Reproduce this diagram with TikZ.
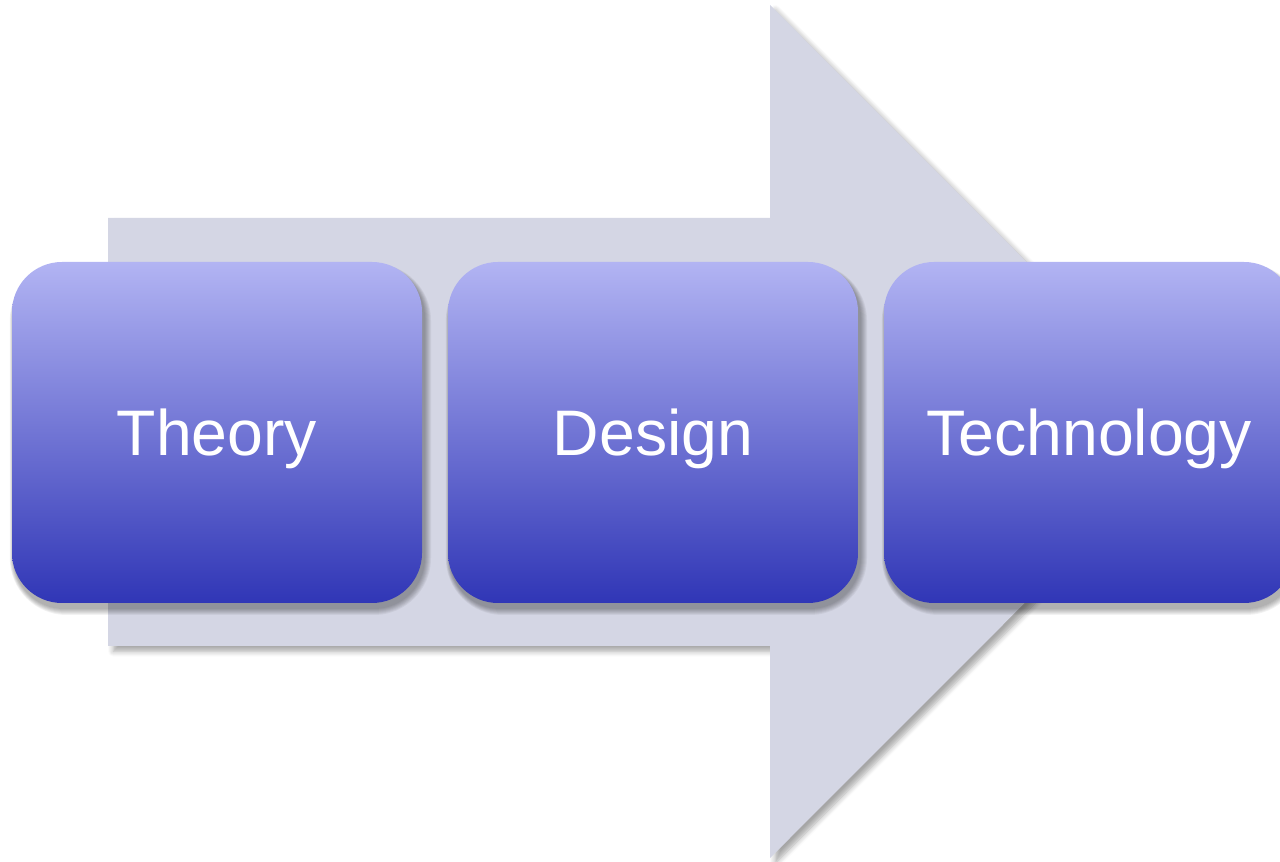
\documentclass[tikz,border=0pt]{standalone}
\usepackage{fontspec}
\setmainfont{Liberation Sans}
\usetikzlibrary{shadows,shadows.blur,calc}
\definecolor{arrowfill}{HTML}{D4D6E4}
\definecolor{boxtop}{HTML}{B2B4F3}
\definecolor{boxbot}{HTML}{3036B6}
\newlength{\pxu}
\setlength{\pxu}{0.01cm}
\tikzset{
  stagebox/.style={rounded corners=50\pxu, minimum width=410\pxu, minimum height=341\pxu,
    top color=boxtop, bottom color=boxbot, draw=none, text=white,
    font=\fontsize{18.3}{22}\selectfont, inner sep=0pt},
  softshade/.style={fill=black, fill opacity=0.05, draw=none},
}
\newcommand{\stageshadow}[1]{%
  \foreach \r in {1,...,7}{%
    \fill[softshade, rounded corners=50\pxu+\r\pxu]
      ($(#1)+(-205-0.6*\r+2,-170.5+5-0.5*\r)$) rectangle ($(#1)+(205+\r+2,170.5+\r+5)$);
  }%
}
\newcommand{\stagetext}[1]{\raisebox{-23.5\pxu}[0pt][0pt]{#1}}
\begin{document}
\begin{tikzpicture}[x=0.01cm,y=-0.01cm]
\path[use as bounding box] (0,0) rectangle (1280,862);
\clip (0,0) rectangle (1280,862);
\fill[arrowfill, blur shadow={shadow xshift=1.5pt, shadow yshift=-1.5pt, shadow blur steps=6, shadow opacity=35, shadow blur radius=1.5pt}]
  (108,218) -- (770,218) -- (770,5) -- (1196,431.5) -- (770,858) -- (770,646) -- (108,646) -- cycle;
\coordinate (ct) at (217,432.5);
\coordinate (cd) at (653,432.5);
\coordinate (cx) at (1089,432.5);
\stageshadow{ct}
\stageshadow{cd}
\stageshadow{cx}
\node[stagebox] (t) at (ct) {\stagetext{Theory}};
\node[stagebox] (d) at (cd) {\stagetext{Design}};
\node[stagebox] (tech) at (cx) {\stagetext{Technology}};
\end{tikzpicture}
\end{document}
